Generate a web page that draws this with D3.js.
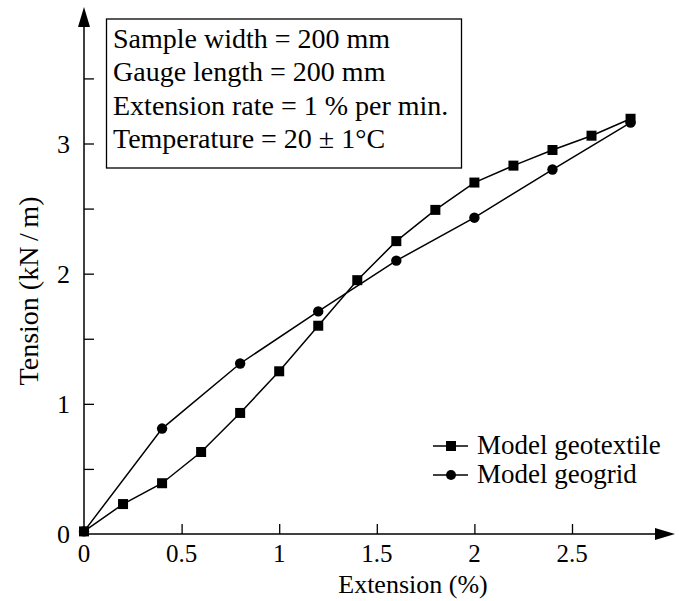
<!DOCTYPE html>
<html>
<head>
<meta charset="utf-8">
<title>Tension vs Extension</title>
<script src="https://d3js.org/d3.v7.min.js"></script>
<style>
  body { margin: 0; background: #fff; }
  svg text { font-family: "Liberation Serif", "Times New Roman", serif; fill: #000; }
</style>
</head>
<body>
<div id="container"></div>
<script>
// data
const geotextileExt = [0, 0.2, 0.4, 0.6, 0.8, 1.0, 1.2, 1.4, 1.6, 1.8, 2.0, 2.2, 2.4, 2.6, 2.8];
const geotextileTen = [0.02, 0.23, 0.39, 0.63, 0.93, 1.25, 1.6, 1.95, 2.25, 2.49, 2.70, 2.83, 2.95, 3.06, 3.19];
const geogridExt = [0, 0.4, 0.8, 1.2, 1.6, 2.0, 2.4, 2.8];
const geogridTen = [0.02, 0.81, 1.31, 1.71, 2.10, 2.43, 2.80, 3.16];
const xTickVals = [0, 0.5, 1, 1.5, 2, 2.5];
const xTickLabels = ["0", "0.5", "1", "1.5", "2", "2.5"];
const yTickVals = [0, 0.5, 1, 1.5, 2, 2.5, 3, 3.5];
const yTickLabels = ["0", "", "1", "", "2", "", "3", ""];
const infoLines = ["Sample width = 200 mm", "Gauge length = 200 mm",
                   "Extension rate = 1 % per min.", "Temperature = 20 \u00b1 1\u00b0C"];
const legendNames = ["Model geotextile", "Model geogrid"];

const width = 679, height = 601;

const x = d3.scaleLinear().domain([0, 2.5]).range([84, 572]);
const y = d3.scaleLinear().domain([0, 3]).range([534, 143.5]);

const svg = d3.select("#container").append("svg")
    .attr("width", width)
    .attr("height", height);

// axes
const xAxis = svg.append("g").attr("transform", `translate(0, ${y(0)})`)
    .call(d3.axisTop(x).tickValues(xTickVals.slice(1)).tickSize(10).tickFormat(""));
xAxis.select(".domain").remove();
const yAxis = svg.append("g").attr("transform", `translate(${x(0)}, 0)`)
    .call(d3.axisRight(y).tickValues(yTickVals.slice(1)).tickSize(10).tickFormat(""));
yAxis.select(".domain").remove();
svg.selectAll(".tick line").attr("stroke", "#000").attr("stroke-width", 1.3);

svg.append("line").attr("x1", x(0)).attr("x2", 665).attr("y1", y(0)).attr("y2", y(0))
    .attr("stroke", "#000").attr("stroke-width", 1.5);
svg.append("path").attr("d", `M675,${y(0)} L655,${y(0) - 6} L655,${y(0) + 6} Z`);
svg.append("line").attr("x1", x(0)).attr("x2", x(0)).attr("y1", y(0)).attr("y2", 20)
    .attr("stroke", "#000").attr("stroke-width", 1.5);
svg.append("path").attr("d", `M${x(0)},7 L${x(0) - 6},27 L${x(0) + 6},27 Z`);

// tick labels
svg.selectAll(".xlab").data(xTickVals).enter().append("text")
    .attr("x", d => x(d)).attr("y", 562)
    .attr("text-anchor", "middle").style("font-size", "25px")
    .text((d, i) => xTickLabels[i]);
svg.selectAll(".ylab").data(yTickVals).enter().append("text")
    .attr("x", 70).attr("y", d => y(d) + 9)
    .attr("text-anchor", "end").style("font-size", "26px")
    .text((d, i) => yTickLabels[i]);

svg.append("text").attr("x", 413).attr("y", 593).attr("text-anchor", "middle")
    .style("font-size", "26px").text("Extension (%)");
svg.append("text").attr("transform", "translate(38, 291) rotate(-90)")
    .attr("text-anchor", "middle").style("font-size", "28px").text("Tension (kN\u2009/\u2009m)");

// info box
svg.append("rect").attr("x", 106.5).attr("y", 19).attr("width", 355).attr("height", 149)
    .attr("fill", "none").attr("stroke", "#000").attr("stroke-width", 1.3);
svg.selectAll(".info").data(infoLines).enter().append("text")
    .attr("x", 113).attr("y", (d, i) => 48 + i * 33.3)
    .style("font-size", "28px").text(d => d);

// series
const line = d3.line().x(d => x(d[0])).y(d => y(d[1]));
const geotextile = geotextileExt.map((e, i) => [e, geotextileTen[i]]);
const geogrid = geogridExt.map((e, i) => [e, geogridTen[i]]);

svg.append("path").datum(geotextile).attr("d", line)
    .attr("fill", "none").attr("stroke", "#000").attr("stroke-width", 1.5);
svg.append("path").datum(geogrid).attr("d", line)
    .attr("fill", "none").attr("stroke", "#000").attr("stroke-width", 1.5);

svg.selectAll(".sq").data(geotextile).enter().append("rect")
    .attr("x", d => x(d[0]) - 5).attr("y", d => y(d[1]) - 5)
    .attr("width", 10).attr("height", 10).attr("fill", "#000");
svg.selectAll(".ci").data(geogrid).enter().append("circle")
    .attr("cx", d => x(d[0])).attr("cy", d => y(d[1])).attr("r", 5.2).attr("fill", "#000");

// legend
const lg = svg.append("g");
legendNames.forEach(function(name, i) {
  const ly = 446 + i * 29;
  lg.append("line").attr("x1", 433).attr("x2", 468).attr("y1", ly).attr("y2", ly)
    .attr("stroke", "#000").attr("stroke-width", 1.5);
  if (i === 0) {
    lg.append("rect").attr("x", 446).attr("y", ly - 5).attr("width", 10).attr("height", 10);
  } else {
    lg.append("circle").attr("cx", 451).attr("cy", ly).attr("r", 5);
  }
  lg.append("text").attr("x", 477).attr("y", ly + 8).style("font-size", "27px").text(name);
});
</script>
</body>
</html>
